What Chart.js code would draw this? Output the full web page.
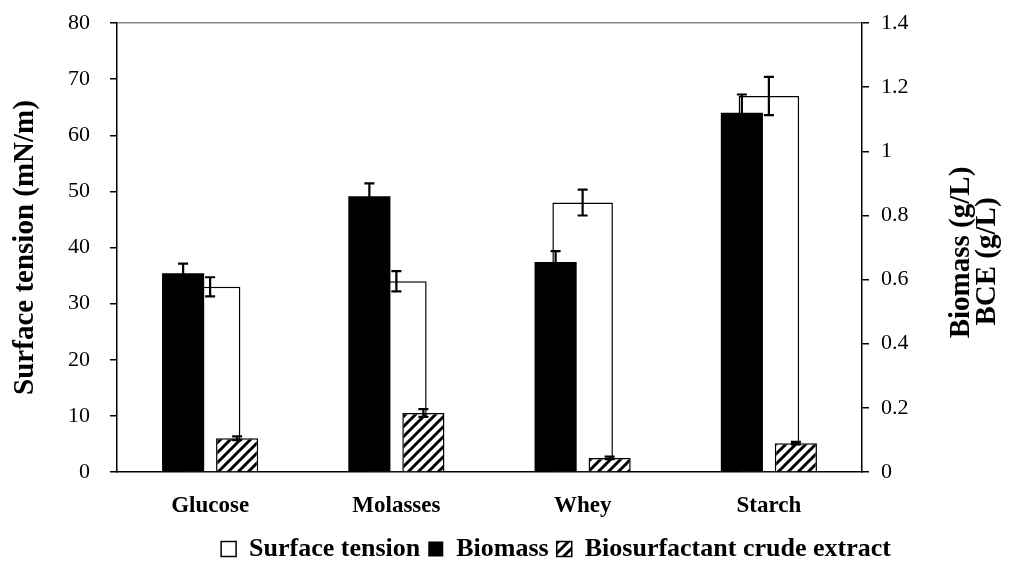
<!DOCTYPE html>
<html><head><meta charset="utf-8">
<script src="https://cdn.jsdelivr.net/npm/chart.js@4.4.0/dist/chart.umd.min.js"></script>
<style>html,body{margin:0;padding:0;background:#fff}#c{display:block}</style>
</head><body>
<canvas id="c" width="1024" height="563"></canvas>
<script>
// ---- data ----
const categories = ['Glucose', 'Molasses', 'Whey', 'Starch'];
const surfaceTension = [33, 34, 48, 67];
const surfaceTensionErr = [1.7, 1.8, 2.3, 3.4];
const biomass = [0.62, 0.86, 0.655, 1.12];
const biomassErr = [0.03, 0.04, 0.034, 0.057];
const bce = [0.105, 0.184, 0.044, 0.09];
const bceErr = [0.006, 0.012, 0.004, 0.004];
const leftAxis = {min: 0, max: 80, step: 10};
const rightAxis = {min: 0, max: 1.4, step: 0.2};
const leftTitle = 'Surface tension (mN/m)';
const rightTitle = ['Biomass (g/L)', 'BCE (g/L)'];

const FONT = "'Liberation Serif', 'Times New Roman', serif";
const canvas = document.getElementById('c');
const ctx = canvas.getContext('2d');

function makeHatch() {
  const s = 10;
  const c = document.createElement('canvas');
  c.width = s; c.height = s;
  const g = c.getContext('2d');
  g.fillStyle = '#fff'; g.fillRect(0, 0, s, s);
  g.strokeStyle = '#000'; g.lineWidth = 3;
  g.beginPath();
  g.moveTo(-2, s + 2); g.lineTo(s + 2, -2);
  g.moveTo(-2, 2); g.lineTo(2, -2);
  g.moveTo(s - 2, s + 2); g.lineTo(s + 2, s - 2);
  g.stroke();
  return ctx.createPattern(c, 'repeat');
}
const hatch = makeHatch();

const errorBars = {
  id: 'errorBars',
  afterDatasetsDraw(chart) {
    const c = chart.ctx;
    chart.data.datasets.forEach((ds, di) => {
      const meta = chart.getDatasetMeta(di);
      if (meta.hidden) return;
      const ys = chart.scales[ds.yAxisID];
      meta.data.forEach((el, i) => {
        const v = ds.data[i], e = ds.errors[i];
        const x = el.x;
        const yT = ys.getPixelForValue(v + e), yB = ys.getPixelForValue(v - e);
        c.save();
        c.strokeStyle = '#000'; c.lineWidth = 2.2;
        c.beginPath();
        c.moveTo(x, yB); c.lineTo(x, yT);
        c.moveTo(x - 5, yT); c.lineTo(x + 5, yT);
        c.moveTo(x - 5, yB); c.lineTo(x + 5, yB);
        c.stroke();
        c.restore();
      });
    });
  }
};
const axisTitles = {
  id: 'axisTitles',
  afterDraw(chart) {
    const c = chart.ctx, a = chart.chartArea;
    const cy = (a.top + a.bottom) / 2;
    const put = (txt, x, y) => {
      c.save();
      c.fillStyle = '#000';
      c.textAlign = 'center'; c.textBaseline = 'middle';
      c.font = "bold 29px " + FONT;
      c.translate(x, y); c.rotate(-Math.PI / 2);
      c.fillText(txt, 0, 0);
      c.restore();
    };
    put(leftTitle, 26, cy);
    put(rightTitle[0], 962, cy + 5);
    put(rightTitle[1], 988, cy + 14);
  }
};
const legendShift = {
  id: 'legendShift',
  afterLayout(chart) {
    const lg = chart.legend;
    if (lg) { lg.left += 44; lg.right += 44; lg.top += 9; lg.bottom += 9; }
  }
};

new Chart(ctx, {
  type: 'bar',
  data: {
    labels: categories,
    datasets: [
      {label: 'Surface tension', data: surfaceTension, errors: surfaceTensionErr,
       yAxisID: 'y', backgroundColor: '#fff', borderColor: '#000',
       borderWidth: 1.5, order: 2, grouped: false, barPercentage: 1, categoryPercentage: 0.325},
      {label: 'Biomass', data: biomass, errors: biomassErr,
       yAxisID: 'y2', backgroundColor: '#000', borderColor: '#000',
       borderWidth: 0, order: 0, barPercentage: 0.78, categoryPercentage: 0.58},
      {label: 'Biosurfactant crude extract', data: bce, errors: bceErr,
       yAxisID: 'y2', backgroundColor: hatch, borderColor: '#000',
       borderWidth: 1.5, order: 1, barPercentage: 0.78, categoryPercentage: 0.58}
    ]
  },
  options: {
    responsive: false,
    animation: false,
    devicePixelRatio: 1,
    layout: {padding: {top: 0, left: 0, right: 0, bottom: 0}},
    plugins: {
      tooltip: {enabled: false},
      legend: {
        position: 'bottom',
        labels: {
          font: {family: FONT, size: 26, weight: 'bold'},
          color: '#000', boxWidth: 15, boxHeight: 15, padding: 8,
          sort: (a, b) => a.datasetIndex - b.datasetIndex
        }
      }
    },
    scales: {
      x: {
        type: 'category', position: 'bottom', offset: true,
        grid: {display: true, drawOnChartArea: false, drawTicks: false, color: 'rgba(0,0,0,0)'},
        border: {display: true, color: '#000', width: 1.5},
        ticks: {font: {family: FONT, size: 23, weight: 'bold'}, color: '#000', padding: 20},
        afterFit(s) { s.height = 91 - (s.chart.legend ? s.chart.legend.height : 0); }
      },
      y: {
        position: 'left', min: leftAxis.min, max: leftAxis.max,
        ticks: {stepSize: leftAxis.step, font: {family: FONT, size: 22}, color: '#000', padding: 20},
        grid: {
          color: (c) => (c.tick && c.tick.value === leftAxis.max) ? '#8a8a8a' : 'rgba(0,0,0,0)',
          tickColor: '#000', tickLength: 7, lineWidth: 1.5, drawOnChartArea: true
        },
        border: {display: true, color: '#000', width: 1.5},
        afterFit(s) { s.width = 117; s.paddingTop = 23; s.paddingBottom = 14; }
      },
      y2: {
        position: 'right', min: rightAxis.min, max: rightAxis.max,
        ticks: {stepSize: rightAxis.step, font: {family: FONT, size: 22}, color: '#000', padding: 12,
                callback: (v) => String(Math.round(v * 10) / 10)},
        grid: {drawOnChartArea: false, tickColor: '#000', tickLength: 7, lineWidth: 1.5},
        border: {display: true, color: '#000', width: 1.5},
        afterFit(s) { s.width = 1024 - 862; s.paddingTop = 23; s.paddingBottom = 14; }
      }
    }
  },
  plugins: [errorBars, axisTitles, legendShift]
});
</script></body></html>
